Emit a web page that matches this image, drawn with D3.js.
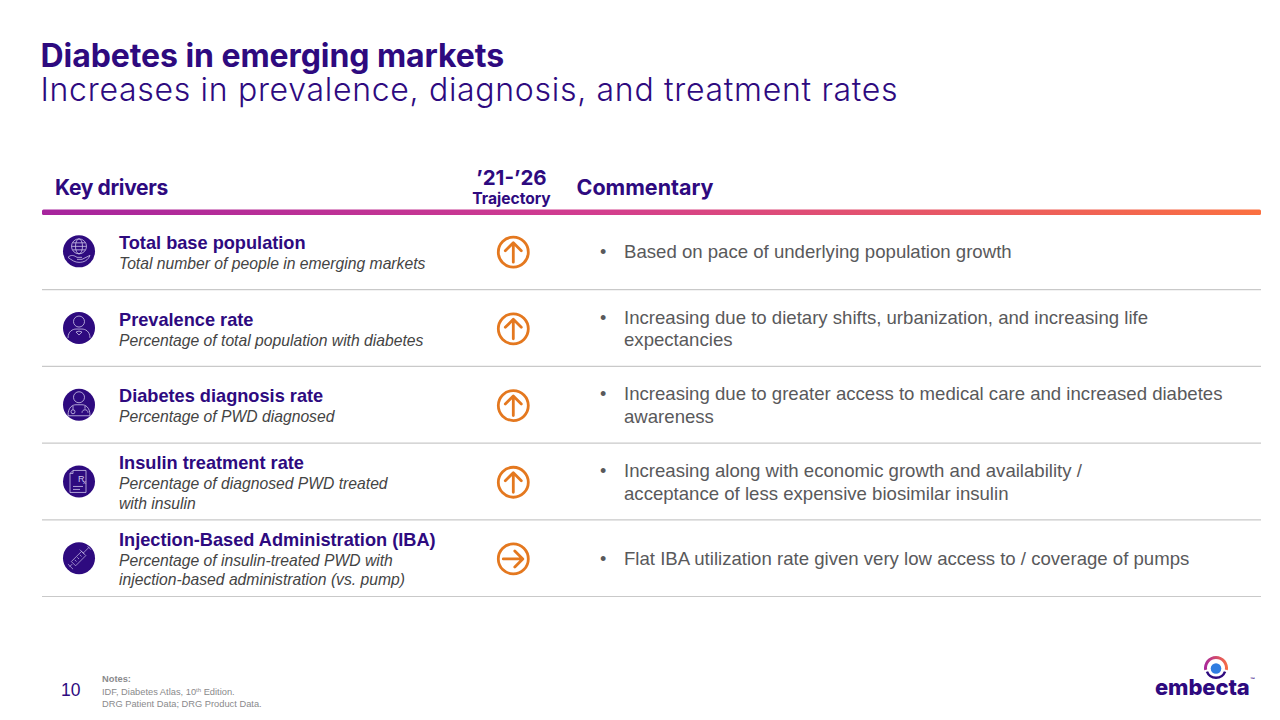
<!DOCTYPE html>
<html><head><meta charset="utf-8">
<script src="https://cdn.jsdelivr.net/npm/d3@7/dist/d3.min.js"></script>
<style>html,body{margin:0;padding:0;background:#fff;overflow:hidden}svg{display:block}
text{font-family:"Liberation Sans",Arial,sans-serif}</style></head><body>
<svg id="c" width="1280" height="720"></svg>
<script>
const drivers=["Total base population","Prevalence rate","Diabetes diagnosis rate","Insulin treatment rate","Injection-Based Administration (IBA)"];
const descriptions=[["Total number of people in emerging markets"],["Percentage of total population with diabetes"],["Percentage of PWD diagnosed"],["Percentage of diagnosed PWD treated","with insulin"],["Percentage of insulin-treated PWD with","injection-based administration (vs. pump)"]];
const trajectory=["up","up","up","up","flat"];
const commentary=[["Based on pace of underlying population growth"],["Increasing due to dietary shifts, urbanization, and increasing life","expectancies"],["Increasing due to greater access to medical care and increased diabetes","awareness"],["Increasing along with economic growth and availability /","acceptance of less expensive biosimilar insulin"],["Flat IBA utilization rate given very low access to / coverage of pumps"]];
const iconKinds=["globe","person","doctor","rx","syringe"];
const purple="#2e0a7f",grey="#59595b",orange="#e4781f";
const svg=d3.select("#c");
const y=d3.scaleBand().domain(d3.range(drivers.length)).range([213,596.5]);
const head="Inter, 'Open Sans', sans-serif";
const defs=svg.append("defs");
const g=defs.append("linearGradient").attr("id","bar");
[[0,"#a6249d"],[.45,"#d23d8f"],[1,"#fb7040"]].forEach(s=>g.append("stop").attr("offset",s[0]).attr("stop-color",s[1]));
function t(x,yy,s,o={}){return svg.append("text").attr("x",x).attr("y",yy).text(s).attr("fill",o.fill||purple).attr("font-size",o.size||16).attr("font-weight",o.weight||400).attr("font-style",o.style||null).attr("text-anchor",o.anchor||"start").style("font-family",o.family||null).style("letter-spacing",o.ls||null)}
t(40.5,67,"Diabetes in emerging markets",{size:32,weight:700,family:head,ls:"-0.07px"});
t(40.5,101,"Increases in prevalence, diagnosis, and treatment rates",{size:32,weight:300,family:head,ls:"0.7px"});
t(55,194.5,"Key drivers",{size:21,weight:700,family:head,ls:"-0.35px"});
t(576.5,194.5,"Commentary",{size:21.5,weight:700,family:head});
t(511.5,185,"’21-’26",{size:20.5,weight:700,family:head,anchor:"middle"});
t(511.5,204,"Trajectory",{size:15.6,weight:700,family:head,anchor:"middle"});
svg.append("rect").attr("x",42).attr("y",209.5).attr("width",1219).attr("height",5.5).attr("rx",1.5).attr("fill","url(#bar)");
const rows=svg.selectAll("g.r").data(drivers).join("g").attr("class","r");
rows.append("line").attr("x1",42).attr("x2",1261).attr("y1",(d,i)=>y(i)+y.bandwidth()).attr("y2",(d,i)=>y(i)+y.bandwidth()).attr("stroke","#c9c9c9").attr("stroke-width",1.2);
const cy=i=>y(i)+y.bandwidth()/2+.5;
rows.each(function(d,i){
 const r=d3.select(this),c=cy(i),lines=descriptions[i];
 const top=lines.length==1?c-3:c-13;
 r.append("text").attr("x",119).attr("y",top).text(d).attr("fill",purple).attr("font-size",18.2).attr("font-weight",700);
 lines.forEach((l,j)=>r.append("text").attr("x",119).attr("y",top+20+j*19.7).text(l).attr("fill","#444").attr("font-size",15.7).attr("font-style","italic"));
 const cm=commentary[i];
 const cTop=cm.length==1?c+6:c-5;
 r.append("text").attr("x",600).attr("y",cTop).text("•").attr("fill",grey).attr("font-size",18);
 cm.forEach((l,j)=>r.append("text").attr("x",624).attr("y",cTop+j*22.7).text(l).attr("fill",grey).attr("font-size",18.6));
 const a=r.append("g").attr("transform",`translate(513.3,${c+.3})`).attr("fill","none").attr("stroke",orange).attr("stroke-width",2.8).attr("stroke-linecap","round").attr("stroke-linejoin","round");
 a.append("circle").attr("r",15);
 a.append("path").attr("d","M0 10V-9M-8 -1.5L0 -9.5L8 -1.5").attr("transform",trajectory[i]=="up"?null:"rotate(90)");
 const ic=r.append("g").attr("transform",`translate(79,${c-.5})`);
 ic.append("circle").attr("r",16).attr("fill",purple);
 const w=ic.append("g").attr("fill","none").attr("stroke","#cfc6ea").attr("stroke-width",.8);
 const k=iconKinds[i];
 if(k=="globe"){w.append("circle").attr("cy",-5).attr("r",7.5);w.append("ellipse").attr("cy",-5).attr("rx",3.5).attr("ry",7.5);w.append("path").attr("d","M-7.5 -5H7.5M-6.5 -8.5H6.5M-6.5 -1.5H6.5M-11 6C-8 3-5 4-2 6H3M-2 8H3L11 4C9 9 5 11 0 11C-4 11-7 9-11 6");}
 if(k=="person"){w.append("circle").attr("cy",-6.5).attr("r",5.5);w.append("path").attr("d","M-11 10C-11 3-6 1-3 1H3C6 1 11 3 11 10M-3 4L0 7L3 4Q0 2-3 4");}
 if(k=="doctor"){w.append("circle").attr("cy",-7.5).attr("r",5.5);w.append("path").attr("d","M-11 11C-11 2-6 0-3 0H3C6 0 11 2 11 11H-11M-6 1V5M6 1V4M3 8C3 4 9 4 9 8");w.append("circle").attr("cx",-6).attr("cy",7).attr("r",2);}
 if(k=="rx"){w.append("path").attr("d","M-6 -11H7V11H-9V-8ZM-6 -11V-8H-9M-6 5H4M-6 8H1");ic.append("text").attr("x",-1).attr("y",1).text("R").attr("font-size",9).attr("fill","#cfc6ea");ic.append("text").attr("x",4).attr("y",3).text("x").attr("font-size",6).attr("fill","#cfc6ea");}
 if(k=="syringe"){w.append("path").attr("d","M-11 10L-8 7M-13 7L-7 13M-9 4L3 -8L8 -3L-4 9ZM5 -6L12 -13M1 -10L6 -5M10 -14L14 -10M-5 2L-3 4M-2 -1L0 1M1 -4L3 -2").attr("transform","scale(.85)");}
});
t(61,696,"10",{size:17.5});
t(102,682,"Notes:",{size:9.3,weight:700,fill:"#8a8a8c"});
const n=t(102,694.5,"IDF, Diabetes Atlas, 10",{size:9.3,fill:"#8a8a8c"});
n.append("tspan").attr("dy",-3).attr("font-size",6).text("th");
n.append("tspan").attr("dy",3).text(" Edition.");
t(102,707,"DRG Patient Data; DRG Product Data.",{size:9.3,fill:"#8a8a8c"});
const arc=d3.arc();
const lg=svg.append("g").attr("transform","translate(1216,668)");
const gg=defs.append("linearGradient").attr("id","lg");gg.append("stop").attr("offset",0).attr("stop-color","#a6249d");gg.append("stop").attr("offset",1).attr("stop-color","#fb7040");
lg.append("path").attr("d",arc({innerRadius:9,outerRadius:12,startAngle:-1.75,endAngle:1.75})).attr("fill","url(#lg)");
lg.append("path").attr("d",arc({innerRadius:8.5,outerRadius:11,startAngle:1.95,endAngle:4.33})).attr("fill",purple);
lg.append("circle").attr("r",5.3).attr("fill","#2f7de1").attr("cy",.5);
t(1155,695,"embecta",{size:22,weight:800,family:head,ls:"-0.1px"});
t(1250,681,"™",{size:5,weight:700});
</script></body></html>
